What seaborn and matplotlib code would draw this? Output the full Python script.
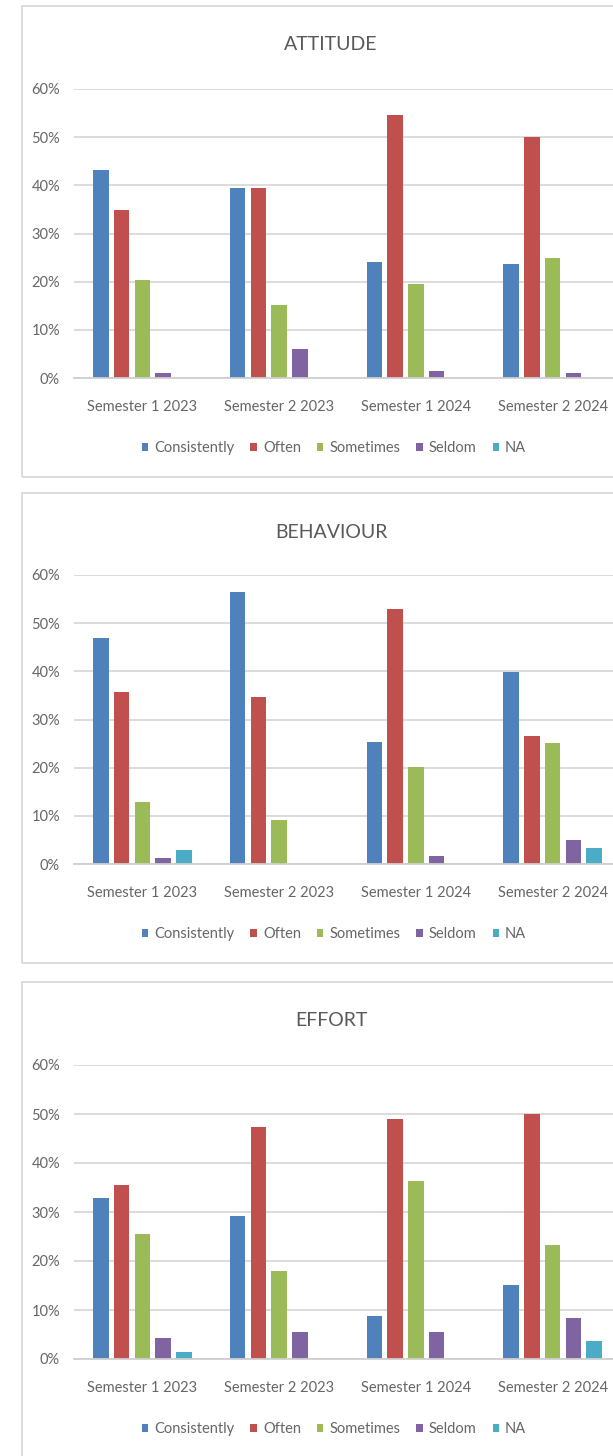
import numpy as np
import pandas as pd
import seaborn as sns
import matplotlib
matplotlib.use("Agg")
import matplotlib.pyplot as plt
from matplotlib import font_manager
from matplotlib.patches import Rectangle
from matplotlib.ticker import PercentFormatter

# ---- data -------------------------------------------------------------
semesters = ["Semester 1 2023", "Semester 2 2023", "Semester 1 2024", "Semester 2 2024"]
ratings = ["Consistently", "Often", "Sometimes", "Seldom", "NA"]
panel_titles = ["ATTITUDE", "BEHAVIOUR", "EFFORT"]
y_ticks = [0.0, 0.1, 0.2, 0.3, 0.4, 0.5, 0.6]

# share of students per rating, one list per semester (in rating order)
attitude = [
    [0.432, 0.348, 0.203, 0.011, 0.0],
    [0.394, 0.394, 0.151, 0.060, 0.0],
    [0.241, 0.545, 0.196, 0.015, 0.0],
    [0.236, 0.500, 0.250, 0.010, 0.0],
]
behaviour = [
    [0.470, 0.358, 0.128, 0.012, 0.029],
    [0.565, 0.346, 0.091, 0.0, 0.0],
    [0.253, 0.529, 0.201, 0.017, 0.0],
    [0.399, 0.266, 0.251, 0.050, 0.033],
]
effort = [
    [0.329, 0.355, 0.255, 0.043, 0.014],
    [0.292, 0.473, 0.179, 0.055, 0.0],
    [0.088, 0.490, 0.363, 0.055, 0.0],
    [0.152, 0.500, 0.232, 0.083, 0.036],
]

palette = ["#4F81BD", "#C0504D", "#9BBB59", "#8064A2", "#4BACC6"]

# ---- style ------------------------------------------------------------
sns.set_theme(style="white")
available = {f.name for f in font_manager.fontManager.ttflist}
family = next(n for n in ["Lato", "Roboto", "Open Sans", "DejaVu Sans"] if n in available)
plt.rcParams["font.family"] = [family, "DejaVu Sans"]

W, H = 613, 1456
DPI = 100
fig = plt.figure(figsize=(W / DPI, H / DPI), dpi=DPI)
fig.patch.set_facecolor("white")

TEXT = "#666666"
GRID = "#d9d9d9"
LABEL_SIZE = 10.5

# pixel layout of each chart block: (border top, border bottom, 60% line, 0% line)
blocks = [
    (6, 477, 89, 378),
    (493, 963, 575, 864),
    (982, 1470, 1065, 1359),
]
ax_left_px, ax_right_px = 74, 621


def fx(px):
    return px / W


def fy(py):
    return 1 - py / H


for title, values, (b_top, b_bot, y60, y0) in zip(panel_titles, [attitude, behaviour, effort], blocks):
    # chart border
    fig.patches.append(Rectangle((fx(22), fy(b_bot)), fx(700 - 22), fy(b_top) - fy(b_bot),
                                 transform=fig.transFigure, fill=False,
                                 edgecolor=GRID, linewidth=1.3, zorder=0))

    df = pd.DataFrame(
        [(sem, rat, values[i][j]) for i, sem in enumerate(semesters) for j, rat in enumerate(ratings)],
        columns=["semester", "rating", "share"],
    )

    ax = fig.add_axes([fx(ax_left_px), fy(y0), fx(ax_right_px - ax_left_px), fy(y60) - fy(y0)])
    sns.barplot(data=df, x="semester", y="share", hue="rating",
                order=semesters, hue_order=ratings, palette=palette,
                width=0.757, gap=0.25, saturation=1, errorbar=None,
                edgecolor="none", linewidth=0, ax=ax, legend=True)

    ax.set_ylim(0, 0.6)
    ax.set_xlim(-0.5, len(semesters) - 0.5)
    ax.set_yticks(y_ticks)
    ax.yaxis.set_major_formatter(PercentFormatter(1.0, decimals=0))
    ax.set_xlabel("")
    ax.set_ylabel("")
    ax.set_facecolor("none")
    ax.grid(axis="y", color=GRID, linewidth=1.3)
    ax.set_axisbelow(True)
    for s in ["top", "right", "left"]:
        ax.spines[s].set_visible(False)
    ax.spines["bottom"].set_color("#cfcfcf")
    ax.spines["bottom"].set_linewidth(1.3)
    ax.tick_params(axis="y", length=0, pad=10, labelsize=LABEL_SIZE, labelcolor=TEXT)
    ax.tick_params(axis="x", length=0, pad=16, labelsize=LABEL_SIZE, labelcolor=TEXT)

    handles, labels = ax.get_legend_handles_labels()
    ax.legend_.remove()
    fig.legend(handles, labels, loc="center", bbox_to_anchor=(fx(334), fy(y0 + 70)),
               bbox_transform=fig.transFigure, ncol=5, frameon=False,
               handlelength=0.45, handleheight=0.45, handletextpad=0.4,
               columnspacing=1.1, fontsize=LABEL_SIZE, labelcolor=TEXT)

    fig.text(fx(331), fy(b_top + 39), title, ha="center", va="center",
             fontsize=14, color="#595959")

fig.savefig("out.png", dpi=DPI, facecolor="white")
